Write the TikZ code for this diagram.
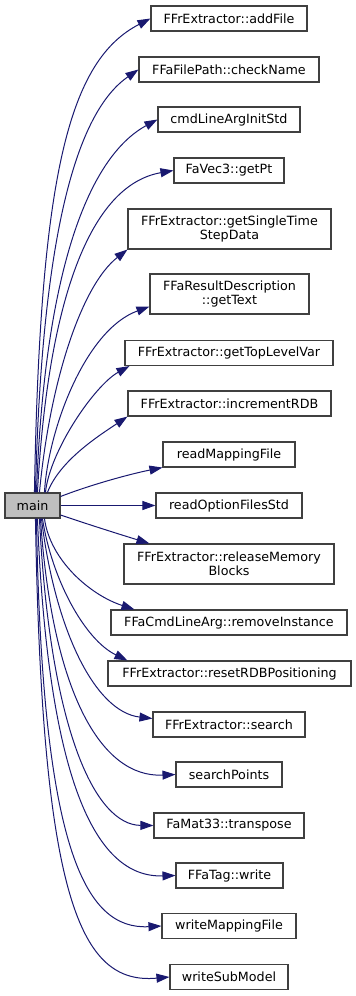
\documentclass[tikz,border=0pt]{standalone}
\usepackage{fontspec}
\setmainfont{DejaVu Sans}
\usetikzlibrary{arrows.meta,calc}
\definecolor{edgeblue}{HTML}{191970}
\definecolor{boxline}{HTML}{404040}
\definecolor{mainfill}{HTML}{BFBFBF}
\begin{document}
\begin{tikzpicture}[x=1pt,y=-1pt,
  fn/.style={draw=boxline, line width=1.1pt, fill=white, inner sep=0pt,
    minimum height=25pt, align=center,
    font=\fontsize{12.7}{14.3}\selectfont},
  fn2/.style={fn, minimum height=40pt},
  call/.style={draw=edgeblue, line width=1pt,
    -{Triangle[length=13pt,width=9pt]}}]
\useasboundingbox (0,0) rectangle (356,996);

% caller
\node[fn, fill=mainfill, minimum width=55pt] (main) at (32.5,505.5) {main};

% callees
\node[fn,  minimum width=156pt] (addFile)   at (229,18.5)  {FFrExtractor::addFile};
\node[fn,  minimum width=180pt] (checkName) at (229,69.5)  {FFaFilePath::checkName};
\node[fn,  minimum width=142pt] (cmdInit)   at (229,119.5) {cmdLineArgInitStd};
\node[fn,  minimum width=110pt] (getPt)     at (229,170.5) {FaVec3::getPt};
\node[fn2, minimum width=203pt] (getSingle) at (229.5,229) {FFrExtractor::getSingleTime\\StepData};
\node[fn2, minimum width=159pt] (getText)   at (229.5,294) {FFaResultDescription\\::getText};
\node[fn,  minimum width=208pt] (getTop)    at (229,353)   {FFrExtractor::getTopLevelVar};
\node[fn,  minimum width=203pt] (incRDB)    at (229.5,403.5) {FFrExtractor::incrementRDB};
\node[fn,  minimum width=132pt] (readMap)   at (229,454.5) {readMappingFile};
\node[fn,  minimum width=146pt] (readOpt)   at (229,505.5) {readOptionFilesStd};
\node[fn2, minimum width=210pt] (release)   at (229,564)   {FFrExtractor::releaseMemory\\Blocks};
\node[fn,  minimum width=236pt] (remove)    at (229,622.5) {FFaCmdLineArg::removeInstance};
\node[fn,  minimum width=243pt] (resetRDB)  at (229.5,673.5) {FFrExtractor::resetRDBPositioning};
\node[fn,  minimum width=152pt] (search)    at (229,724.5) {FFrExtractor::search};
\node[fn,  minimum width=106pt] (searchPts) at (229,774.5) {searchPoints};
\node[fn,  minimum width=150pt] (transpose) at (229,825.5) {FaMat33::transpose};
\node[fn,  minimum width=107pt] (tagWrite)  at (229.5,875.5) {FFaTag::write};
\node[fn,  minimum width=134pt] (writeMap)  at (229,926)   {writeMappingFile};
\node[fn,  minimum width=118pt] (writeSub)  at (229,977)   {writeSubModel};

% calls leaving the top of main
\draw[call] ($(main.north west)+(30,0)$) .. controls (40,170) and (70,60) .. (addFile.west);
\draw[call] ($(main.north west)+(31,0)$) .. controls (42,220) and (80,110) .. (checkName.west);
\draw[call] ($(main.north west)+(32,0)$) .. controls (45,260) and (92,155) .. (cmdInit.west);
\draw[call] ($(main.north west)+(33,0)$) .. controls (48,300) and (90,185) .. (getPt.west);
\draw[call] ($(main.north west)+(35,0)$) .. controls (50,380) and (82,285) .. (getSingle.south west);
\draw[call] ($(main.north west)+(40,0)$) .. controls (48,430) and (85,330) .. ($(getText.south west)+(0,-8)$);
\draw[call] ($(main.north west)+(41,0)$) .. controls (50,450) and (95,385) .. ($(getTop.south west)+(5,0)$);
\draw[call] ($(main.north west)+(43,0)$) .. controls (60,460) and (100,435) .. (incRDB.south west);

% calls leaving the right side of main
\draw[call] ($(main.east)+(0,-9)$) .. controls (90,485) and (130,474) .. (readMap.south west);
\draw[call] (main.east) -- (readOpt.west);
\draw[call] ($(main.east)+(0,9.5)$) .. controls (90,525) and (125,536) .. ($(release.north west)+(26,0)$);

% calls leaving the bottom of main
\draw[call] ($(main.south west)+(40,0)$) .. controls (50,560) and (90,595) .. ($(remove.north west)+(24,0)$);
\draw[call] ($(main.south west)+(38,0)$) .. controls (52,580) and (85,640) .. ($(resetRDB.north west)+(20,0)$);
\draw[call] ($(main.south west)+(37,0)$) .. controls (55,630) and (95,712) .. ($(search.west)+(0,-6)$);
\draw[call] ($(main.south west)+(36,0)$) .. controls (52,690) and (100,778) .. (searchPts.west);
\draw[call] ($(main.south west)+(35,0)$) .. controls (50,730) and (95,825) .. (transpose.west);
\draw[call] ($(main.south west)+(33,0)$) .. controls (48,780) and (95,878) .. (tagWrite.west);
\draw[call] ($(main.south west)+(32,0)$) .. controls (42,850) and (85,930) .. (writeMap.west);
\draw[call] ($(main.south west)+(31,0)$) .. controls (42,900) and (80,985) .. (writeSub.west);
\end{tikzpicture}
\end{document}
